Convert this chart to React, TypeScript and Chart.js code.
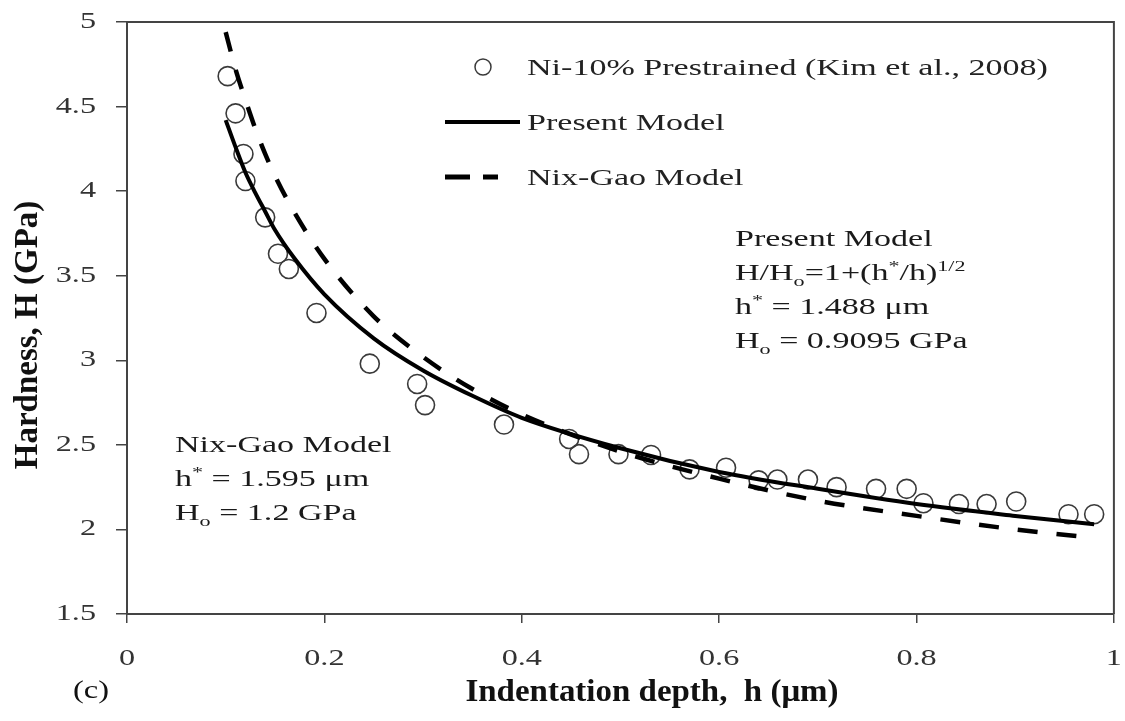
import React, { useEffect, useRef } from "react";
import { Chart, registerables } from "chart.js";

Chart.register(...registerables);

// ---- data ----
const xTickValues = [0, 0.2, 0.4, 0.6, 0.8, 1];
const xTickLabels = ["0", "0.2", "0.4", "0.6", "0.8", "1"];
const yTickValues = [1.5, 2, 2.5, 3, 3.5, 4, 4.5, 5];
const yTickLabels = ["1.5", "2", "2.5", "3", "3.5", "4", "4.5", "5"];

const depthData = [
  0.102, 0.11, 0.118, 0.12, 0.14, 0.153, 0.164, 0.192, 0.246, 0.294,
  0.302, 0.382, 0.448, 0.458, 0.498, 0.531, 0.57, 0.607, 0.64, 0.659,
  0.69, 0.719, 0.759, 0.79, 0.807, 0.843, 0.871, 0.901, 0.954, 0.98,
];
const hardnessData = [
  4.68, 4.46, 4.22, 4.06, 3.845, 3.63, 3.54, 3.28, 2.98, 2.86,
  2.735, 2.62, 2.535, 2.445, 2.445, 2.44, 2.355, 2.365, 2.29, 2.295,
  2.295, 2.25, 2.24, 2.24, 2.155, 2.15, 2.15, 2.165, 2.09, 2.09,
];

const modelDepth = [0.1, 0.11, 0.12, 0.13, 0.14, 0.15, 0.17, 0.2, 0.25, 0.3, 0.35, 0.4, 0.5, 0.6, 0.7, 0.8, 0.9, 0.98];
const presentModel = [4.42, 4.26, 4.11, 3.99, 3.88, 3.77, 3.6, 3.39, 3.13, 2.94, 2.79, 2.66, 2.48, 2.34, 2.24, 2.15, 2.08, 2.03];
const nixGaoModel = [4.94, 4.72, 4.54, 4.37, 4.22, 4.09, 3.87, 3.6, 3.26, 3.02, 2.83, 2.68, 2.46, 2.3, 2.17, 2.08, 2.0, 1.95];

const legendLabels = ["Ni-10% Prestrained (Kim et al., 2008)", "Present Model", "Nix-Gao Model"];
const xTitle = "Indentation depth,  h (\u03bcm)";
const yTitle = "Hardness, H (GPa)";
const panelLabel = "(c)";

type Run = { t: string; kind?: "sub" | "sup" };
const presentNote: Run[][] = [
  [{ t: "Present Model" }],
  [{ t: "H/H" }, { t: "o", kind: "sub" }, { t: "=1+(h" }, { t: "*", kind: "sup" }, { t: "/h)" }, { t: "1/2", kind: "sup" }],
  [{ t: "h" }, { t: "*", kind: "sup" }, { t: " = 1.488 \u03bcm" }],
  [{ t: "H" }, { t: "o", kind: "sub" }, { t: " = 0.9095 GPa" }],
];
const nixGaoNote: Run[][] = [
  [{ t: "Nix-Gao Model" }],
  [{ t: "h" }, { t: "*", kind: "sup" }, { t: " = 1.595 \u03bcm" }],
  [{ t: "H" }, { t: "o", kind: "sub" }, { t: " = 1.2 GPa" }],
];

const SERIF = '"Liberation Serif", "Times New Roman", serif';

function drawRuns(
  ctx: CanvasRenderingContext2D,
  runs: Run[],
  x: number,
  y: number,
  size: number,
  sx: number,
  color: string,
  weight = "normal"
) {
  ctx.save();
  ctx.translate(x, y);
  ctx.scale(sx, 1);
  ctx.fillStyle = color;
  ctx.textBaseline = "alphabetic";
  ctx.textAlign = "left";
  let cx = 0;
  for (const r of runs) {
    let s = size;
    let dy = 0;
    if (r.kind === "sub") {
      s = size * 0.65;
      dy = size * 0.28;
    } else if (r.kind === "sup") {
      s = size * 0.65;
      dy = -size * 0.38;
    }
    ctx.font = `${weight} ${s}px ${SERIF}`;
    ctx.fillText(r.t, cx, dy);
    cx += ctx.measureText(r.t).width;
  }
  ctx.restore();
}

function drawText(
  ctx: CanvasRenderingContext2D,
  text: string,
  x: number,
  y: number,
  font: string,
  sx: number,
  align: CanvasTextAlign,
  baseline: CanvasTextBaseline,
  color: string
) {
  ctx.save();
  ctx.translate(x, y);
  ctx.scale(sx, 1);
  ctx.font = font;
  ctx.textAlign = align;
  ctx.textBaseline = baseline;
  ctx.fillStyle = color;
  ctx.fillText(text, 0, 0);
  ctx.restore();
}

const decorPlugin = {
  id: "decor",
  afterDraw(chart: any) {
    const ctx: CanvasRenderingContext2D = chart.ctx;
    const { left, right, top, bottom } = chart.chartArea;
    const xs = chart.scales.x;
    const ys = chart.scales.y;

    // frame top / right
    ctx.save();
    ctx.strokeStyle = "#444";
    ctx.lineWidth = 2;
    ctx.beginPath();
    ctx.moveTo(left, top);
    ctx.lineTo(right, top);
    ctx.lineTo(right, bottom);
    ctx.stroke();
    ctx.restore();

    // tick labels
    const tickFont = `23px ${SERIF}`;
    yTickValues.forEach((v, i) => {
      drawText(ctx, yTickLabels[i], 96, ys.getPixelForValue(v), tickFont, 1.4, "right", "middle", "#333");
    });
    xTickValues.forEach((v, i) => {
      drawText(ctx, xTickLabels[i], xs.getPixelForValue(v), 659, tickFont, 1.4, "center", "middle", "#333");
    });

    // axis titles
    drawText(ctx, xTitle, 652, 701, `bold 32px ${SERIF}`, 1.03, "center", "alphabetic", "#111");
    ctx.save();
    ctx.translate(37, 335);
    ctx.rotate(-Math.PI / 2);
    ctx.font = `bold 33px ${SERIF}`;
    ctx.textAlign = "center";
    ctx.textBaseline = "alphabetic";
    ctx.fillStyle = "#111";
    ctx.fillText(yTitle, 0, 0);
    ctx.restore();

    // panel label
    drawText(ctx, panelLabel, 73, 698, `25px ${SERIF}`, 1.3, "left", "alphabetic", "#111");

    // legend
    const ds = chart.data.datasets;
    ctx.save();
    ctx.strokeStyle = ds[0].borderColor;
    ctx.lineWidth = 1.5;
    ctx.beginPath();
    ctx.arc(483, 67, 8, 0, Math.PI * 2);
    ctx.stroke();
    ctx.strokeStyle = ds[1].borderColor;
    ctx.lineWidth = 4;
    ctx.beginPath();
    ctx.moveTo(445, 122);
    ctx.lineTo(520, 122);
    ctx.stroke();
    ctx.strokeStyle = ds[2].borderColor;
    ctx.lineWidth = 5;
    ctx.setLineDash([25, 13]);
    ctx.beginPath();
    ctx.moveTo(445, 177);
    ctx.lineTo(498, 177);
    ctx.stroke();
    ctx.restore();
    const legY = [75, 130, 185];
    legendLabels.forEach((t, i) => drawRuns(ctx, [{ t }], 527, legY[i], 23, 1.48, "#222"));

    // annotations
    const pBase = [246, 280, 314, 348];
    presentNote.forEach((runs, i) => drawRuns(ctx, runs, 735, pBase[i], 23, 1.48, "#1a1a1a"));
    const nBase = [452, 486, 520];
    nixGaoNote.forEach((runs, i) => drawRuns(ctx, runs, 175, nBase[i], 23, 1.48, "#1a1a1a"));
  },
};

export default function App() {
  const canvasRef = useRef<HTMLCanvasElement | null>(null);

  useEffect(() => {
    const canvas = canvasRef.current;
    if (!canvas) return;
    const chart = new Chart(canvas, {
      type: "scatter",
      data: {
        datasets: [
          {
            label: legendLabels[0],
            data: depthData.map((x, i) => ({ x, y: hardnessData[i] })),
            showLine: false,
            pointStyle: "circle",
            pointRadius: 9.5,
            pointBorderWidth: 1.6,
            borderColor: "#3a3a3a",
            pointBorderColor: "#3a3a3a",
            backgroundColor: "rgba(0,0,0,0)",
            pointBackgroundColor: "rgba(0,0,0,0)",
            order: 3,
          },
          {
            label: legendLabels[1],
            data: modelDepth.map((x, i) => ({ x, y: presentModel[i] })),
            showLine: true,
            pointRadius: 0,
            borderColor: "#000",
            borderWidth: 4,
            cubicInterpolationMode: "monotone",
            fill: false,
            order: 1,
          },
          {
            label: legendLabels[2],
            data: modelDepth.map((x, i) => ({ x, y: nixGaoModel[i] })),
            showLine: true,
            pointRadius: 0,
            borderColor: "#000",
            borderWidth: 4.5,
            borderDash: [20, 19],
            cubicInterpolationMode: "monotone",
            fill: false,
            order: 2,
          },
        ],
      },
      options: {
        responsive: false,
        animation: false,
        devicePixelRatio: 1,
        layout: { padding: { left: 116, right: 8, top: 22, bottom: 98 } },
        plugins: {
          legend: { display: false },
          tooltip: { enabled: false },
          title: { display: false },
        },
        scales: {
          x: {
            type: "linear",
            min: 0,
            max: 1,
            ticks: { display: false },
            afterBuildTicks: (s: any) => {
              s.ticks = xTickValues.map((v) => ({ value: v }));
            },
            afterFit: (s: any) => {
              s.height = 9;
            },
            grid: { display: true, drawOnChartArea: false, drawTicks: true, tickLength: 9, color: "#444", lineWidth: 1.5 },
            border: { display: true, color: "#444", width: 2 },
          },
          y: {
            type: "linear",
            min: 1.5,
            max: 5,
            ticks: { display: false },
            afterBuildTicks: (s: any) => {
              s.ticks = yTickValues.map((v) => ({ value: v }));
            },
            afterFit: (s: any) => {
              s.width = 11;
            },
            grid: { display: true, drawOnChartArea: false, drawTicks: true, tickLength: 11, color: "#444", lineWidth: 1.5 },
            border: { display: true, color: "#444", width: 2 },
          },
        },
      },
      plugins: [decorPlugin],
    });
    return () => chart.destroy();
  }, []);

  return (
    <div style={{ position: "absolute", left: 0, top: 0, width: 1125, height: 721, background: "#fff" }}>
      <canvas ref={canvasRef} width={1125} height={721} style={{ display: "block", width: 1125, height: 721 }} />
    </div>
  );
}
